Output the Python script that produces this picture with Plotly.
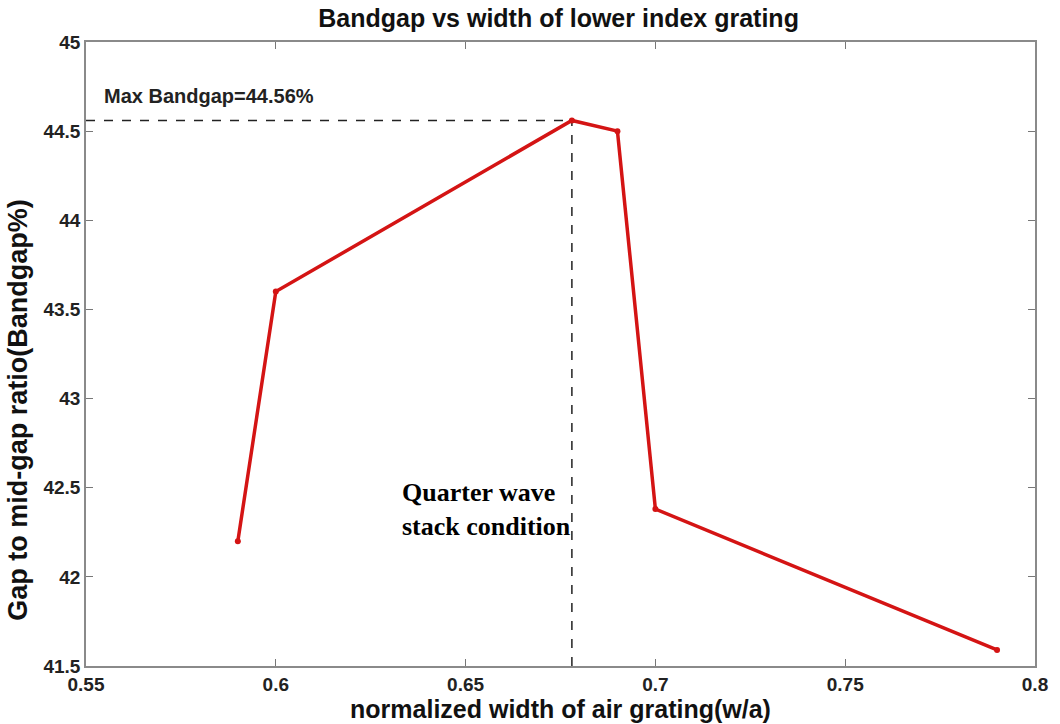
import plotly.graph_objects as go

width_ratio = [0.59, 0.60, 0.678, 0.69, 0.70, 0.79]
bandgap = [42.2, 43.6, 44.56, 44.5, 42.38, 41.59]

max_x = 0.678
max_y = 44.56
x_range = [0.55, 0.8]
y_range = [41.5, 45]
x_ticks = [0.55, 0.6, 0.65, 0.7, 0.75, 0.8]
y_ticks = [41.5, 42, 42.5, 43, 43.5, 44, 44.5, 45]

fig = go.Figure()
fig.add_trace(go.Scatter(x=[x_range[0], max_x], y=[max_y, max_y], mode="lines",
                         line=dict(color="#222", width=1.5, dash="dash"), showlegend=False))
fig.add_trace(go.Scatter(x=[max_x, max_x], y=[y_range[0], max_y], mode="lines",
                         line=dict(color="#222", width=1.5, dash="dash"), showlegend=False))
fig.add_trace(go.Scatter(x=width_ratio, y=bandgap, mode="lines+markers",
                         line=dict(color="#d41414", width=3.5),
                         marker=dict(color="#d41414", size=6), showlegend=False))

font_sans = "Liberation Sans, Arial, sans-serif"
axis_common = dict(showline=True, linecolor="#8a8a8a", linewidth=1.5, mirror="ticks",
                   ticks="inside", ticklen=7, tickcolor="#777", showgrid=False, zeroline=False,
                   tickfont=dict(family=font_sans, size=19, color="#222"))

fig.update_xaxes(range=x_range, tickvals=x_ticks, ticktext=[f"<b>{v:g}</b>" for v in x_ticks],
                 title=dict(text="<b>normalized width of air grating(w/a)</b>",
                            font=dict(family=font_sans, size=25, color="#111"), standoff=0),
                 **axis_common)
fig.update_yaxes(range=y_range, tickvals=y_ticks, ticktext=[f"<b>{v:g}</b>" for v in y_ticks],
                 **axis_common)

fig.update_layout(
    width=1060, height=724,
    margin=dict(l=86, r=22, t=42, b=53),
    paper_bgcolor="white", plot_bgcolor="white",
    title=dict(text="<b>Bandgap vs width of lower index grating</b>", x=0.527, xanchor="center",
               y=0.975, yanchor="middle", font=dict(family=font_sans, size=25, color="#111")),
    annotations=[
        dict(text="<b>Gap to mid-gap ratio(Bandgap%)</b>", x=-0.072, y=0.41,
             xref="paper", yref="paper", xanchor="center", yanchor="middle",
             textangle=-90, showarrow=False,
             font=dict(family=font_sans, size=27, color="#111")),
        dict(text="<b>Max Bandgap=44.56%</b>", x=0.5542, y=44.695, xref="x", yref="y",
             xanchor="left", yanchor="middle", showarrow=False,
             font=dict(family=font_sans, size=20, color="#222")),
        dict(text="<b>Quarter wave<br>stack condition</b>", x=0.6328, y=42.38, xref="x", yref="y",
             xanchor="left", yanchor="middle", align="left", showarrow=False,
             font=dict(family="Liberation Serif, Times New Roman, serif", size=26, color="#000")),
    ],
)

fig.write_html("out.html")
